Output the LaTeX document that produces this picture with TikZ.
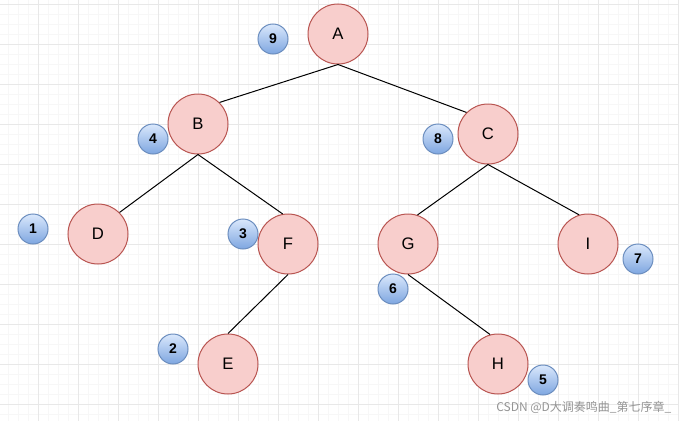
\documentclass[tikz,border=0pt]{standalone}
\usepackage{fontspec}
\setmainfont{Liberation Sans}
\newfontfamily\cjk{Noto Sans CJK SC}
\usepackage{xcolor}
\usepackage{tikz}
\usetikzlibrary{positioning}
\definecolor{nodefill}{HTML}{F8CECC}
\definecolor{nodeline}{HTML}{B85450}
\definecolor{marktop}{HTML}{DAE8FC}
\definecolor{markbot}{HTML}{7EA6E0}
\definecolor{markline}{HTML}{6C8EBF}
\definecolor{gridminor}{HTML}{F7F7F7}
\definecolor{gridmajor}{HTML}{E8E8E8}
\tikzset{
    treenode/.style={circle, draw=nodeline, fill=nodefill, line width=0.75pt, minimum size=45pt, inner sep=0pt, font=\fontsize{12.5}{14}\selectfont},
    ordermark/.style={circle, draw=markline, top color=marktop, bottom color=markbot, line width=0.75pt, minimum size=22.5pt, inner sep=0pt, font=\bfseries\fontsize{10.5}{12}\selectfont},
    edge/.style={draw=black, line width=0.75pt},
    watermark/.style={anchor=west, inner sep=0pt, text=black!42, font=\cjk\fontsize{9}{11}\selectfont}
}

\begin{document}
\begin{tikzpicture}[x=0.75pt, y=-0.75pt]
            \useasboundingbox (0,0) rectangle (679,421);
            % background grid
            \foreach \gx in {8,18,...,678} \draw[gridminor, line width=0.75pt] (\gx,0) -- (\gx,421);
            \foreach \gy in {4,14,...,420} \draw[gridminor, line width=0.75pt] (0,\gy) -- (679,\gy);
            \foreach \gx in {38,78,...,678} \draw[gridmajor, line width=0.75pt] (\gx,0) -- (\gx,421);
            \foreach \gy in {4,44,...,420} \draw[gridmajor, line width=0.75pt] (0,\gy) -- (679,\gy);

            \node (A) [treenode] at (338,34) {A};
            \node (B) [treenode] at (198,124) {B};
            \node (C) [treenode] at (488,134) {C};
            \node (D) [treenode] at (98,234) {D};
            \node (F) [treenode] at (288,244) {F};
            \node (G) [treenode] at (408,244) {G};
            \node (I) [treenode] at (588,244) {I};
            \node (E) [treenode] at (228,364) {E};
            \node (H) [treenode] at (498,364) {H};

            % visiting order
            \foreach \n/\px/\py in {1/33/229, 2/173/349, 3/243/234, 4/153/139, 5/543/380,
                                    6/393/289, 7/638/259, 8/438/139, 9/273/39}
                \node (m\n) [ordermark] at (\px,\py) {\n};

            \draw[edge] (A.south) -- (B.45);
            \draw[edge] (A.south) -- (C.135);
            \draw[edge] (B.south) -- (D.45);
            \draw[edge] (B.south) -- (F.100);
            \draw[edge] (F.south) -- (E.north);
            \draw[edge] (C.south) -- (G.72);
            \draw[edge] (C.south) -- (I.107);
            \draw[edge] (G.south) -- (H.105);

            \node (wm) [watermark] at (496,407) {CSDN @D大调奏鸣曲\_第七序章\_};
        \end{tikzpicture}
\end{document}
